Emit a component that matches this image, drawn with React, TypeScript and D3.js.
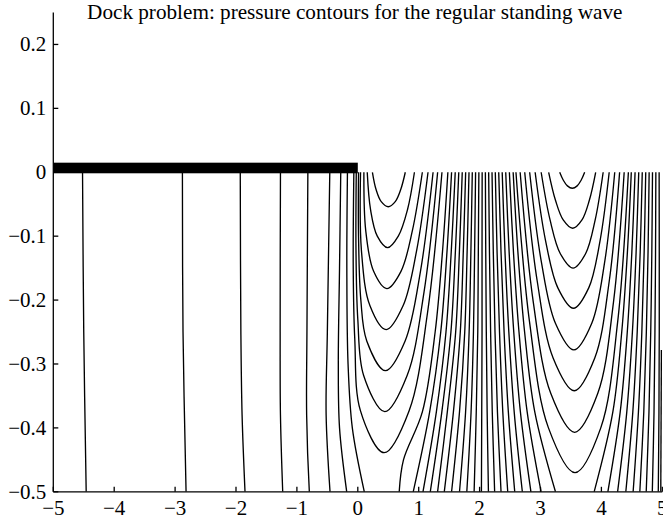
import React from "react";
import * as d3 from "d3";

const WIDTH = 663;
const HEIGHT = 522;

const title = "Dock problem: pressure contours for the regular standing wave";
const xDomain: [number, number] = [-5, 5];
const yDomain: [number, number] = [-0.5, 0.25];
const xTickValues = [-5, -4, -3, -2, -1, 0, 1, 2, 3, 4, 5];
const yTickValues = [-0.5, -0.4, -0.3, -0.2, -0.1, 0, 0.1, 0.2];

// The dock: a rigid plate covering the surface for x < 0
const dockX: [number, number] = [-5, 0];
const dockY: [number, number] = [-0.0016, 0.015];

// Depths at which the through-going contours are sampled
const depthRows = [0, -0.125, -0.25, -0.375, -0.5];

// Contours running from the surface to the bottom between the two U families
const middleX: number[][] = [
  [2.551, 2.629, 2.739, 2.906, 3.246],
  [2.489, 2.556, 2.647, 2.781, 3.01],
  [2.429, 2.485, 2.561, 2.67, 2.843],
  [2.371, 2.417, 2.48, 2.568, 2.702],
  [2.314, 2.352, 2.402, 2.472, 2.577],
  [2.258, 2.287, 2.327, 2.381, 2.462],
  [2.204, 2.225, 2.253, 2.293, 2.352],
  [2.149, 2.162, 2.181, 2.208, 2.247],
  [2.095, 2.101, 2.11, 2.124, 2.145],
  [2.042, 2.04, 2.04, 2.035, 2.03],
  [1.988, 1.979, 1.97, 1.945, 1.91],
  [1.934, 1.918, 1.899, 1.86, 1.79],
  [1.88, 1.857, 1.828, 1.77, 1.67],
  [1.826, 1.795, 1.756, 1.67, 1.54],
  [1.771, 1.732, 1.683, 1.57, 1.42],
  [1.715, 1.668, 1.607, 1.47, 1.31],
  [1.658, 1.602, 1.529, 1.38, 1.19],
  [1.6, 1.534, 1.448, 1.29, 1.07],
  [1.54, 1.464, 1.362, 1.18, 0.91],
];

// Contours right of the crest family, leaning back towards it with depth
const outerX: number[][] = [
  [4.491, 4.427, 4.334, 4.188, 3.881],
  [4.553, 4.5, 4.425, 4.309, 4.106],
  [4.613, 4.57, 4.509, 4.417, 4.266],
  [4.671, 4.637, 4.588, 4.516, 4.401],
  [4.728, 4.702, 4.664, 4.608, 4.521],
  [4.784, 4.766, 4.738, 4.696, 4.631],
  [4.839, 4.828, 4.81, 4.781, 4.736],
  [4.894, 4.889, 4.879, 4.864, 4.836],
  [4.948, 4.95, 4.95, 4.945, 4.934],
];

// Nested U-shaped contours under the crest near x = 3.5
const crestContours: number[][][] = [
  [[3.315, 0], [3.375, -0.0125], [3.442, -0.0213], [3.523, -0.025], [3.602, -0.0213], [3.667, -0.0125], [3.725, 0]],
  [[3.134, 0], [3.246, -0.0438], [3.373, -0.0745], [3.529, -0.0876], [3.681, -0.0745], [3.802, -0.0438], [3.906, 0]],
  [[3.011, 0], [3.158, -0.075], [3.326, -0.1275], [3.535, -0.15], [3.74, -0.1275], [3.897, -0.075], [4.029, 0]],
  [[2.912, 0], [3.082, -0.1064], [3.285, -0.1809], [3.541, -0.2128], [3.792, -0.1809], [3.979, -0.1064], [4.128, 0]],
  [[2.822, 0], [3.012, -0.139], [3.245, -0.2363], [3.548, -0.278], [3.842, -0.2363], [4.056, -0.139], [4.219, 0]],
  [[2.741, 0], [2.947, -0.1709], [3.207, -0.2905], [3.554, -0.3418], [3.891, -0.2905], [4.128, -0.1709], [4.299, 0]],
  [[2.666, 0], [2.882, -0.2035], [3.168, -0.3459], [3.561, -0.4069], [3.941, -0.3459], [4.198, -0.2035], [4.374, 0]],
  [[2.597, 0], [2.821, -0.235], [3.129, -0.3996], [3.567, -0.4701], [3.991, -0.3996], [4.266, -0.235], [4.443, 0]],
];

// Nested U-shaped contours under the trough near x = 0.5, next to the dock edge
const troughContours: number[][][] = [
  [[0.24, 0], [0.3, -0.027], [0.385, -0.046], [0.5, -0.054], [0.615, -0.046], [0.705, -0.027], [0.78, 0]],
  [[0.155, 0], [0.21, -0.059], [0.32, -0.1], [0.49, -0.118], [0.665, -0.1], [0.815, -0.059], [0.93, 0]],
  [[0.1, 0], [0.13, -0.091], [0.26, -0.155], [0.477, -0.182], [0.709, -0.155], [0.897, -0.091], [1.06, 0]],
  [[0.045, 0], [0.06, -0.123], [0.2, -0.209], [0.466, -0.2463], [0.743, -0.209], [0.965, -0.123], [1.153, 0]],
  [[0.012, 0], [0.012, -0.1], [0.05, -0.2], [0.147, -0.264], [0.454, -0.3105], [0.777, -0.264], [1.029, -0.155], [1.236, 0]],
  [[-0.025, 0], [-0.03, -0.12], [0.0, -0.23], [0.096, -0.318], [0.443, -0.3746], [0.81, -0.318], [1.088, -0.187], [1.311, 0]],
  [[-0.065, 0], [-0.075, -0.15], [-0.05, -0.26], [0.043, -0.373], [0.431, -0.4388], [0.843, -0.373], [1.146, -0.219], [1.382, 0]],
];

// Contours that leave the underside of the dock and reach the bottom
const dockContours: number[][][] = [
  [[-4.52, 0], [-4.5, -0.25], [-4.46, -0.5]],
  [[-2.88, 0], [-2.87, -0.25], [-2.82, -0.5]],
  [[-1.93, 0], [-1.92, -0.25], [-1.9, -0.38], [-1.852, -0.5]],
  [[-1.27, 0], [-1.275, -0.25], [-1.27, -0.38], [-1.233, -0.5]],
  [[-0.82, 0], [-0.835, -0.25], [-0.84, -0.38], [-0.796, -0.5]],
  [[-0.46, 0], [-0.5, -0.25], [-0.52, -0.38], [-0.456, -0.5]],
  [[-0.28, 0], [-0.3, -0.15], [-0.32, -0.3], [-0.3, -0.4], [-0.182, -0.5]],
  [[-0.17, 0], [-0.18, -0.15], [-0.16, -0.3], [-0.09, -0.4], [0.107, -0.5]],
  [[0.68, -0.5], [0.75, -0.45], [1.06, -0.375], [1.27, -0.25], [1.39, -0.125], [1.479, 0]],
];

// Contour entering through the right-hand edge
const edgeContours: number[][][] = [
  [[4.985, -0.278], [4.975, -0.5]],
];

const MARGIN = { left: 53.3, right: 0.7, top: 12.5, bottom: 30.2 };

export default function App() {
  const x = d3
    .scaleLinear()
    .domain(xDomain)
    .range([MARGIN.left, WIDTH - MARGIN.right]);
  const y = d3
    .scaleLinear()
    .domain(yDomain)
    .range([HEIGHT - MARGIN.bottom, MARGIN.top]);

  const line = d3
    .line<number[]>()
    .x((d) => x(d[0]))
    .y((d) => y(d[1]))
    .curve(d3.curveCatmullRom.alpha(0.5));

  const fromRows = (xs: number[]) => xs.map((v, i) => [v, depthRows[i]]);
  const contours = [
    ...dockContours,
    ...troughContours,
    ...crestContours,
    ...middleX.map(fromRows),
    ...outerX.map(fromRows),
    ...edgeContours,
  ];

  const x0 = x(xDomain[0]);
  const x1 = x(xDomain[1]);
  const yb = y(yDomain[0]);
  const yt = y(yDomain[1]);
  const fmt = (v: number) => (v < 0 ? "\u2212" : "") + String(Math.abs(v));

  return (
    <svg
      width={WIDTH}
      height={HEIGHT}
      style={{ position: "absolute", left: 0, top: 0, background: "#fff" }}
      fontFamily="'Liberation Serif', 'Times New Roman', serif"
    >
      <defs>
        <clipPath id="plot-area">
          <rect x={x0} y={yt} width={x1 - x0} height={yb - yt} />
        </clipPath>
      </defs>

      <g clipPath="url(#plot-area)" fill="none" stroke="#000" strokeWidth={1.35} strokeLinejoin="round">
        {contours.map((c, i) => (
          <path key={i} d={line(c) ?? ""} />
        ))}
      </g>

      <rect
        x={x(dockX[0])}
        y={y(dockY[1])}
        width={x(dockX[1]) - x(dockX[0])}
        height={y(dockY[0]) - y(dockY[1])}
        fill="#000"
      />

      <g stroke="#000" strokeWidth={1.3} fill="none">
        <line x1={x0} x2={x0} y1={yt} y2={yb} />
        <line x1={x0} x2={x1} y1={yb} y2={yb} />
        {yTickValues.map((v) => (
          <line key={"yt" + v} x1={x0} x2={x0 + 5} y1={y(v)} y2={y(v)} />
        ))}
        {xTickValues.map((v) => (
          <line key={"xt" + v} x1={x(v)} x2={x(v)} y1={yb} y2={yb - 5} />
        ))}
      </g>

      <g fontSize={21} fill="#000">
        {yTickValues.map((v) => (
          <text key={"yl" + v} x={x0 - 7} y={y(v) + 7} textAnchor="end">
            {fmt(v)}
          </text>
        ))}
        {xTickValues.map((v) => (
          <text key={"xl" + v} x={x(v)} y={yb + 23} textAnchor="middle">
            {fmt(v)}
          </text>
        ))}
      </g>

      <text x={(x0 + x1) / 2 - 3} y={18.5} textAnchor="middle" fontSize={21.2} fill="#000">
        {title}
      </text>
    </svg>
  );
}
